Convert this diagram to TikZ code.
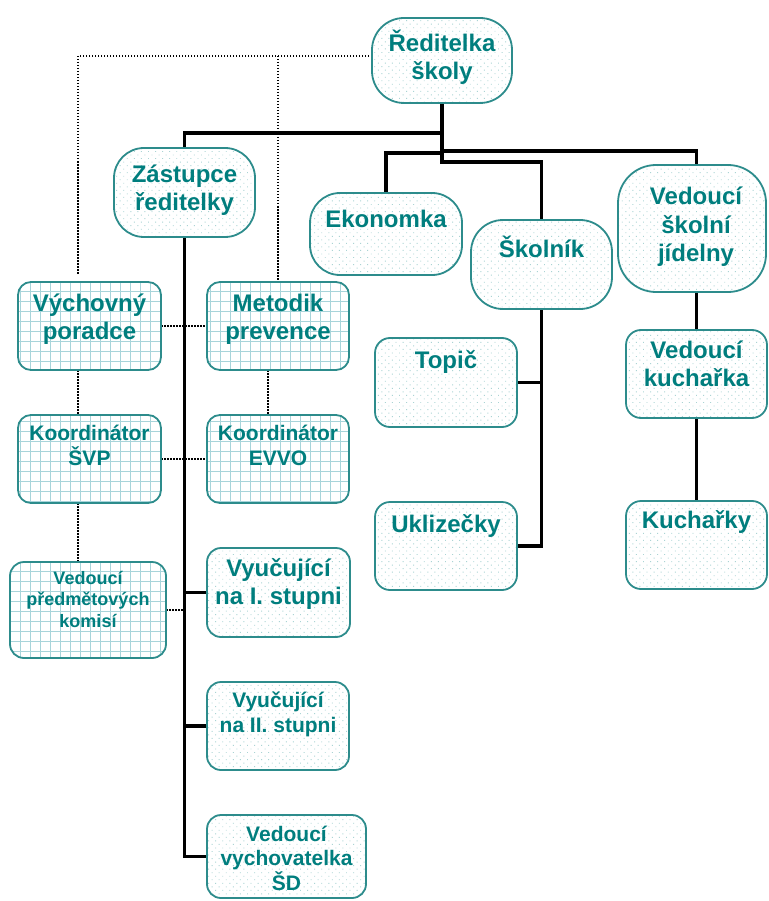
\documentclass[tikz,border=0pt]{standalone}
\usepackage{fontspec}
\setmainfont{Liberation Sans}
\usetikzlibrary{patterns.meta}
\definecolor{tealline}{RGB}{45,140,140}
\definecolor{tealtext}{RGB}{0,126,126}
\definecolor{dotc}{RGB}{170,212,212}
\definecolor{gridc}{RGB}{168,212,218}
\pgfdeclarelayer{lines}
\pgfsetlayers{lines,main}
\tikzset{
  boxbase/.style={draw=tealline, line width=1.8pt, inner sep=0pt, outer sep=0pt,
    preaction={fill=white}},
  dotbox/.style={boxbase, pattern={Dots[distance=5pt, radius=0.65pt, angle=45]}, pattern color=dotc},
  gridbox/.style={boxbase, pattern={Hatch[angle=0, distance=10pt, line width=0.7pt]}, pattern color=gridc},
  txt/.style={text=tealtext, align=center, inner sep=0pt, anchor=base},
  bigtxt/.style={txt, font=\bfseries\fontsize{24}{28}\selectfont},
  midtxt/.style={txt, font=\bfseries\fontsize{21}{24.5}\selectfont},
  smalltxt/.style={txt, font=\bfseries\fontsize{18}{21.5}\selectfont},
  tree/.style={draw=black, line width=3.2pt},
  dotline/.style={draw=black, line width=1.5pt, dash pattern=on 1.5pt off 1.5pt},
}
\begin{document}
\begin{tikzpicture}[x=1pt, y=-1pt]
\useasboundingbox (0,0) rectangle (768,901);

% box outlines, positioned by centre and size
\node[dotbox, rounded corners=32pt, minimum width=140pt, minimum height=85pt] (red) at (442,60.5) {};
\node[dotbox, rounded corners=30pt, minimum width=141pt, minimum height=89pt] (zast) at (184.5,192.5) {};
\node[dotbox, rounded corners=30pt, minimum width=152pt, minimum height=82pt] (eko) at (386,234) {};
\node[dotbox, rounded corners=32pt, minimum width=141pt, minimum height=89pt] (skol) at (541.5,264.5) {};
\node[dotbox, rounded corners=38pt, minimum width=148pt, minimum height=127pt] (jid) at (692,228.5) {};

\node[gridbox, rounded corners=13pt, minimum width=143pt, minimum height=88pt] (vych) at (89.5,326) {};
\node[gridbox, rounded corners=13pt, minimum width=142pt, minimum height=88pt] (met) at (278,326) {};
\node[gridbox, rounded corners=13pt, minimum width=143pt, minimum height=88pt] (ksvp) at (89.5,459) {};
\node[gridbox, rounded corners=13pt, minimum width=142pt, minimum height=88pt] (kevvo) at (278,459) {};
\node[gridbox, rounded corners=14pt, minimum width=156pt, minimum height=96pt] (vpk) at (88,610) {};

\node[dotbox, rounded corners=14pt, minimum width=143pt, minimum height=89pt] (vyu1) at (278.5,592.5) {};
\node[dotbox, rounded corners=14pt, minimum width=142pt, minimum height=88pt] (vyu2) at (278,726) {};
\node[dotbox, rounded corners=14pt, minimum width=159pt, minimum height=83pt] (vvsd) at (286.5,856.5) {};

\node[dotbox, rounded corners=15pt, minimum width=142pt, minimum height=89pt] (topic) at (446,382.5) {};
\node[dotbox, rounded corners=15pt, minimum width=142pt, minimum height=88pt] (ukl) at (446,546) {};
\node[dotbox, rounded corners=15pt, minimum width=141pt, minimum height=88pt] (vkuch) at (696.5,374) {};
\node[dotbox, rounded corners=15pt, minimum width=141pt, minimum height=88pt] (kuch) at (696.5,545) {};

% box texts (anchored at the baseline of the last line)
\node[bigtxt] (t-red) at (442,80) {Ředitelka\\školy};
\node[bigtxt] (t-zast) at (184.5,211) {Zástupce\\ředitelky};
\node[bigtxt] (t-eko) at (386,228) {Ekonomka};
\node[bigtxt] (t-skol) at (541.5,257) {Školník};
\node[bigtxt] (t-jid) at (696,261) {Vedoucí\\školní\\jídelny};
\node[bigtxt] (t-vych) at (89.5,339) {Výchovný\\poradce};
\node[bigtxt] (t-met) at (278,339) {Metodik\\prevence};
\node[midtxt] (t-ksvp) at (89.5,465) {Koordinátor\\ŠVP};
\node[midtxt] (t-kevvo) at (278,465) {Koordinátor\\EVVO};
\node[smalltxt] (t-vpk) at (88,627) {Vedoucí\\předmětových\\komisí};
\node[bigtxt] (t-vyu1) at (278.5,604) {Vyučující\\na I. stupni};
\node[midtxt] (t-vyu2) at (278,732) {Vyučující\\na II. stupni};
\node[midtxt] (t-vvsd) at (286.5,890) {Vedoucí\\vychovatelka\\ŠD};
\node[bigtxt] (t-topic) at (446,368) {Topič};
\node[bigtxt] (t-ukl) at (446,532) {Uklizečky};
\node[bigtxt] (t-vkuch) at (696.5,386) {Vedoucí\\kuchařka};
\node[bigtxt] (t-kuch) at (696.5,528) {Kuchařky};

% helper coordinates for the dotted advisory lines
\coordinate (dl) at (78,56);
\coordinate (dm) at (278,56);
\coordinate (dlend) at (78,275);
\coordinate (dmb) at (268,370);

\begin{pgfonlayer}{lines}
% dotted advisory lines
\path[dotline] (red.west |- dl) -- (dl) -- (dlend);
\path[dotline] (dm) -- (met.north);
\path[dotline] (vych.east) -- (met.west);
\path[dotline] (ksvp.east) -- (kevvo.west);
\path[dotline] (vych.south -| dl) -- (ksvp.north -| dl);
\path[dotline] (ksvp.south -| dl) -- (vpk.north -| dl);
\path[dotline] (met.south -| dmb) -- (kevvo.north -| dmb);
\path[dotline] (vpk.east) -- (vpk.east -| zast.south);

% solid line-management tree
\path[tree] (red.south) -- ++(0,30) -| (zast.north);
\path[tree] (red.south) -- ++(0,50) -| (eko.north);
\path[tree] (red.south) -- ++(0,48) -| (vkuch.north |- jid.north);
\path[tree] (red.south) -- ++(0,59) -| (skol.north);
\path[tree] (zast.south) |- (vvsd.west);
\path[tree] (zast.south |- vyu1.west) -- (vyu1.west);
\path[tree] (zast.south |- vyu2.west) -- (vyu2.west);
\path[tree] (skol.south) |- (ukl.east);
\path[tree] (skol.south |- topic.east) -- (topic.east);
\path[tree] (vkuch.north |- jid.south) -- (vkuch.north);
\path[tree] (vkuch.south) -- (kuch.north);
\end{pgfonlayer}
\end{tikzpicture}
\end{document}
